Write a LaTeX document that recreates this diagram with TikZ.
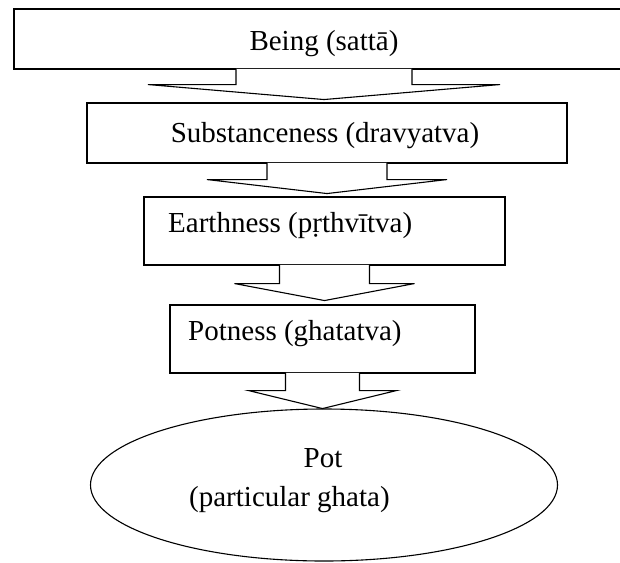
\documentclass[tikz,border=0pt]{standalone}
\usepackage{fontspec}
\setmainfont{Liberation Serif}
\usetikzlibrary{shapes.geometric}

\begin{document}
\begin{tikzpicture}[x=1pt,y=-1pt,
  box/.style={draw,line width=1.1pt,inner sep=0pt},
  txt/.style={inner sep=0pt,font=\fontsize{29}{34}\selectfont},
  blk/.style={line width=1.1pt,line join=miter,preaction={fill=white}}]
  \clip (0,0) rectangle (620,562);
  % the boxes
  \node[box,minimum width=620pt,minimum height=60pt] (being) at (324,39) {};
  \node[box,minimum width=480pt,minimum height=60pt] (subst) at (327,133) {};
  \node[box,minimum width=361pt,minimum height=68pt] (earth) at (324.5,231) {};
  \node[box,minimum width=305pt,minimum height=68pt] (potness) at (322.5,339) {};
  \node[box,ellipse,minimum width=467pt,minimum height=152pt] (pot) at (324,485) {};
  % the texts
  \node[txt,anchor=base] (beingtxt) at (324,50) {Being (sattā)};
  \node[txt,anchor=base] (substtxt) at (325,142) {Substanceness (dravyatva)};
  \node[txt,anchor=base west] (earthtxt) at (168,232) {Earthness (pṛthvītva)};
  \node[txt,anchor=base west] (potnesstxt) at (188,340) {Potness (ghatatva)};
  \node[txt,anchor=base] (pottxt) at (323,467) {Pot};
  \node[txt,anchor=base west] (ghatatxt) at (189,506) {(particular ghata)};
  % block arrows: box / stem half width / head depth / tip depth
  \foreach \a/\s/\h/\d in {being/88/15/30, subst/60/16/30, earth/45/18/35, potness/37/17/35}
    \draw[blk] ([xshift=-\s pt,yshift=0.6pt]\a.south)
      -- ([xshift=-\s pt,yshift=-\h pt]\a.south)
      -- ([xshift=-2*\s pt,yshift=-\h pt]\a.south)
      -- ([yshift=-\d pt]\a.south)
      -- ([xshift=2*\s pt,yshift=-\h pt]\a.south)
      -- ([xshift=\s pt,yshift=-\h pt]\a.south)
      -- ([xshift=\s pt,yshift=0.6pt]\a.south);
\end{tikzpicture}
\end{document}
